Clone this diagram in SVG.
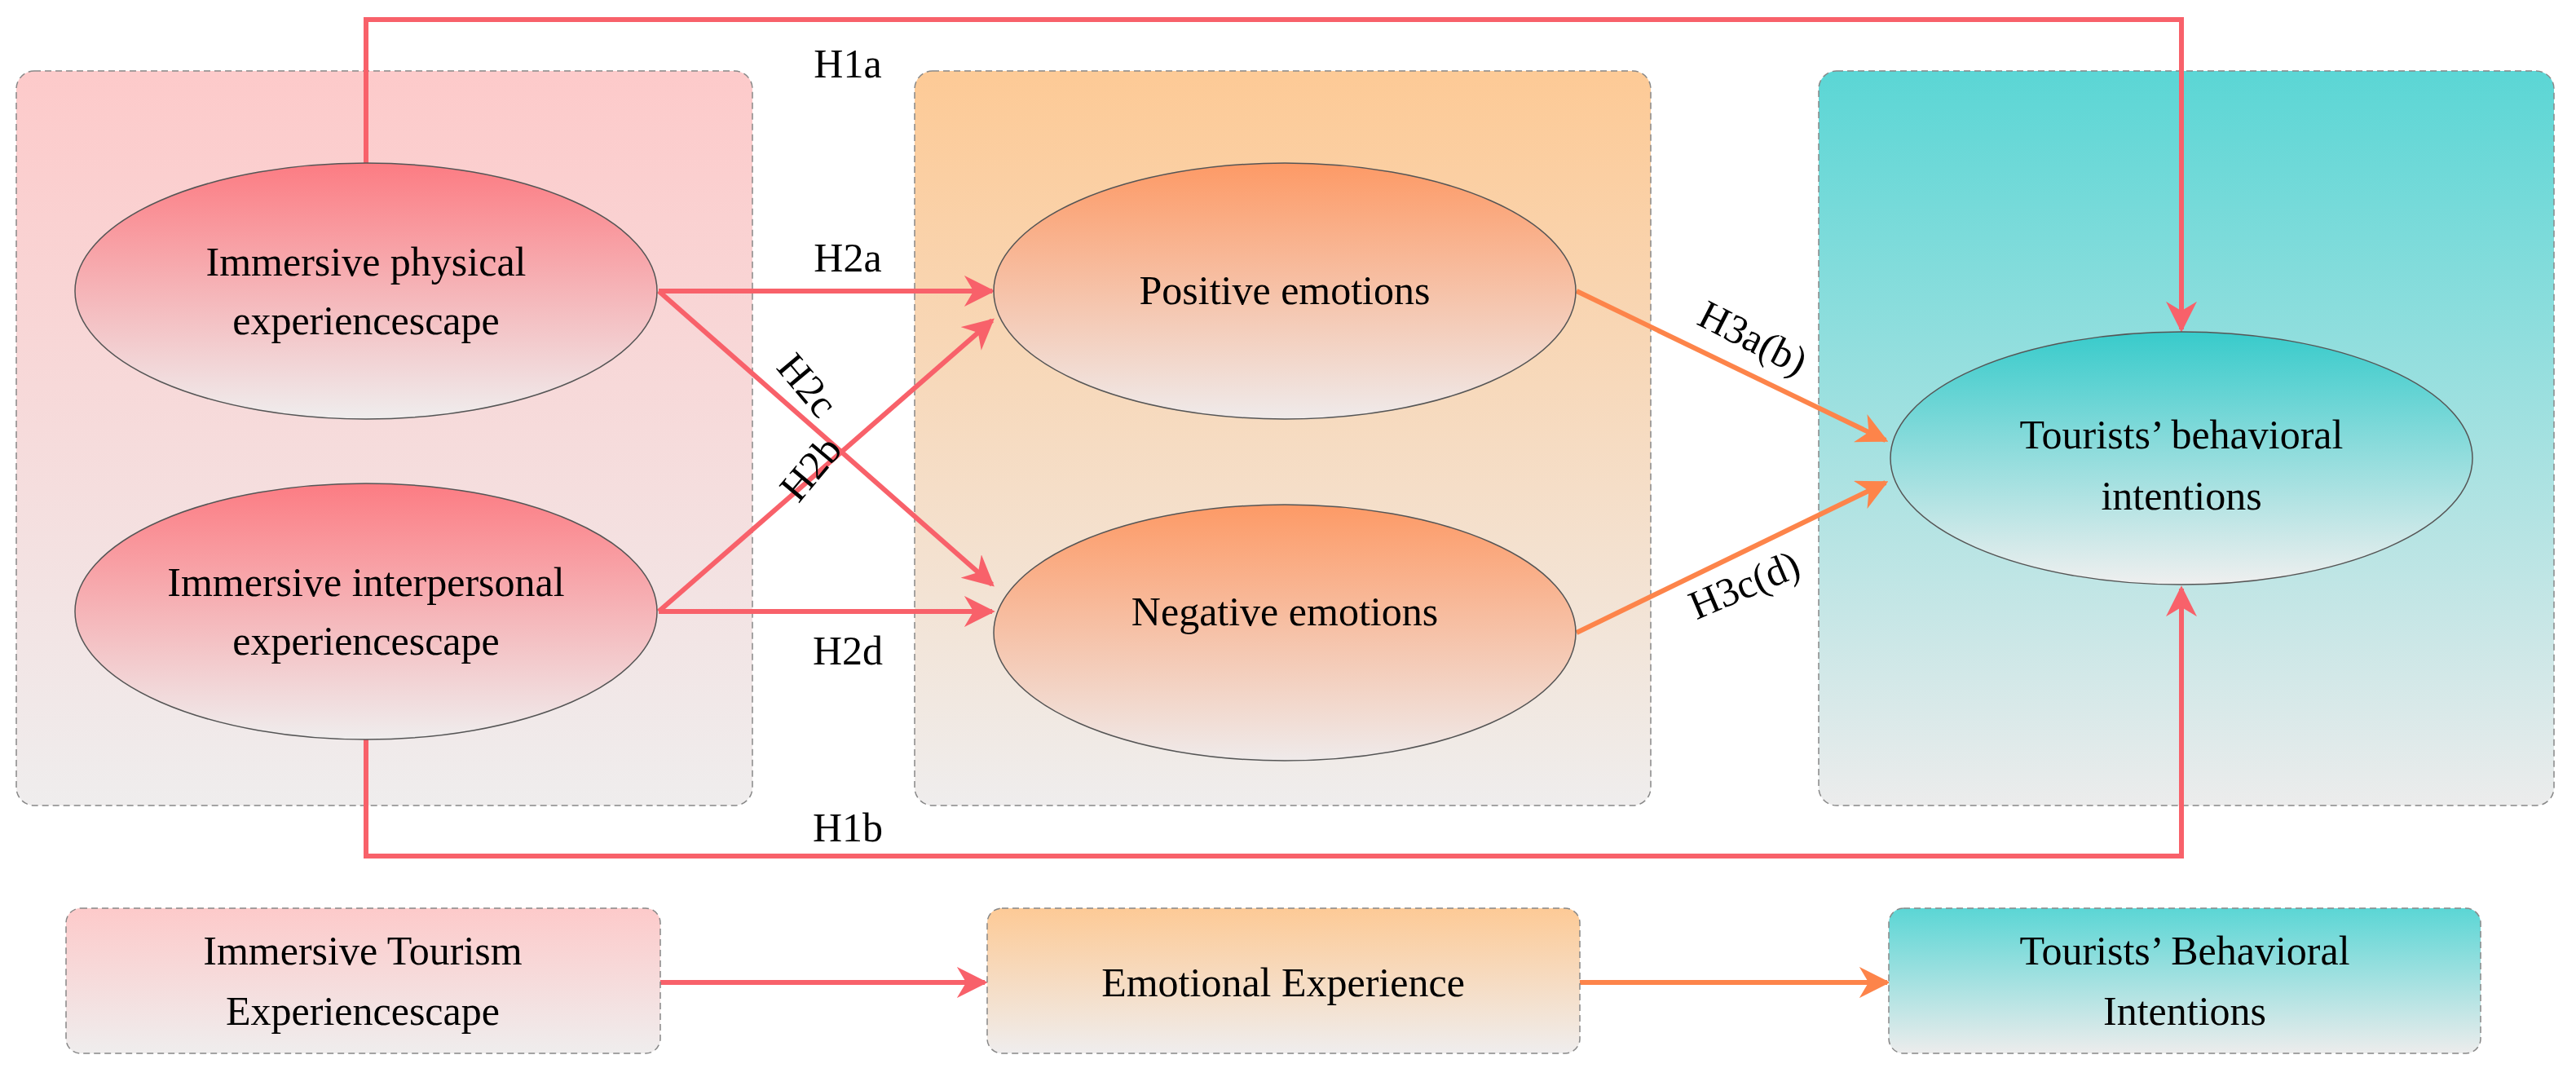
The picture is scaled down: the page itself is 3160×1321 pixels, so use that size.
<svg xmlns="http://www.w3.org/2000/svg" width="3160" height="1321" viewBox="0 0 3160 1321">
<defs>
<linearGradient id="gP" x1="0" y1="0" x2="0" y2="1"><stop offset="0" stop-color="#fdcaca"/><stop offset="1" stop-color="#efeded"/></linearGradient>
<linearGradient id="gO" x1="0" y1="0" x2="0" y2="1"><stop offset="0" stop-color="#fdca96"/><stop offset="1" stop-color="#efeded"/></linearGradient>
<linearGradient id="gT" x1="0" y1="0" x2="0" y2="1"><stop offset="0" stop-color="#5bd6d5"/><stop offset="1" stop-color="#ececec"/></linearGradient>
<linearGradient id="eP" x1="0" y1="0" x2="0" y2="1"><stop offset="0" stop-color="#fc7c83"/><stop offset="1" stop-color="#efeded"/></linearGradient>
<linearGradient id="eO" x1="0" y1="0" x2="0" y2="1"><stop offset="0" stop-color="#fd9a66"/><stop offset="1" stop-color="#efeaea"/></linearGradient>
<linearGradient id="eT" x1="0" y1="0" x2="0" y2="1"><stop offset="0" stop-color="#38cbcb"/><stop offset="1" stop-color="#efefef"/></linearGradient>
<marker id="mR" viewBox="0 0 10 10" refX="9" refY="5" markerWidth="7" markerHeight="7" markerUnits="userSpaceOnUse" orient="auto"><path d="M0,0 L10,5 L0,10 L3,5 Z" fill="#f8616a"/></marker>
<marker id="aR" viewBox="0 0 10 10" refX="9" refY="5" markerWidth="38" markerHeight="38" markerUnits="userSpaceOnUse" orient="auto"><path d="M0,0 L10,5 L0,10 L3,5 Z" fill="#f8616a"/></marker>
<marker id="aO" viewBox="0 0 10 10" refX="9" refY="5" markerWidth="38" markerHeight="38" markerUnits="userSpaceOnUse" orient="auto"><path d="M0,0 L10,5 L0,10 L3,5 Z" fill="#fd844a"/></marker>
</defs>
<style>
.panel{stroke:#888;stroke-width:1.5;stroke-dasharray:8 5}
.ell{stroke:#555;stroke-width:1.5}
text{font-family:"Liberation Serif","Times New Roman",serif;font-size:50px;fill:#000;text-anchor:middle}
.r{fill:none;stroke:#f8616a;stroke-width:6}
.o{fill:none;stroke:#fd844a;stroke-width:6}
</style>
<rect width="3160" height="1321" fill="#fff"/>
<g id="panel-left"><rect class="panel" x="20" y="87" width="903" height="901" rx="22" fill="url(#gP)"/></g>
<g id="panel-mid"><rect class="panel" x="1122" y="87" width="903" height="901" rx="22" fill="url(#gO)"/></g>
<g id="panel-right"><rect class="panel" x="2231" y="87" width="902" height="901" rx="22" fill="url(#gT)"/></g>
<g id="connectors">
<polyline class="r" points="449,200 449,24 2676,24 2676,404" marker-end="url(#aR)"/>
<polyline class="r" points="449,907 449,1050 2676,1050 2676,722" marker-end="url(#aR)"/>
<line class="r" x1="808" y1="357" x2="1217" y2="357" marker-end="url(#aR)"/>
<line class="r" x1="808" y1="357" x2="1217" y2="717" marker-end="url(#aR)"/>
<line class="r" x1="808" y1="750" x2="1217" y2="393" marker-end="url(#aR)"/>
<line class="r" x1="808" y1="750" x2="1217" y2="750" marker-end="url(#aR)"/>
<line class="o" x1="1934" y1="357" x2="2313" y2="540" marker-end="url(#aO)"/>
<line class="o" x1="1934" y1="776" x2="2313" y2="592" marker-end="url(#aO)"/>
<line class="r" x1="810" y1="1205" x2="1208" y2="1205" marker-end="url(#aR)"/>
<line class="o" x1="1938" y1="1205" x2="2315" y2="1205" marker-end="url(#aO)"/>
</g>
<g id="node-physical"><ellipse class="ell" cx="449" cy="357" rx="357" ry="157" fill="url(#eP)"/><text x="449" y="338">Immersive physical</text><text x="449" y="410">experiencescape</text></g>
<g id="node-interpersonal"><ellipse class="ell" cx="449" cy="750" rx="357" ry="157" fill="url(#eP)"/><text x="449" y="731">Immersive interpersonal</text><text x="449" y="803">experiencescape</text></g>
<g id="node-positive"><ellipse class="ell" cx="1576" cy="357" rx="357" ry="157" fill="url(#eO)"/><text x="1576" y="373">Positive emotions</text></g>
<g id="node-negative"><ellipse class="ell" cx="1576" cy="776" rx="357" ry="157" fill="url(#eO)"/><text x="1576" y="767">Negative emotions</text></g>
<g id="node-intentions"><ellipse class="ell" cx="2676" cy="562" rx="357" ry="155" fill="url(#eT)"/><text x="2676" y="550">Tourists’ behavioral</text><text x="2676" y="625">intentions</text></g>
<g id="labels">
<text x="1040" y="95">H1a</text>
<text x="1040" y="333">H2a</text>
<text transform="translate(990,473) rotate(50)" y="16">H2c</text>
<text transform="translate(995,575) rotate(-50)" y="16">H2b</text>
<text x="1040" y="815">H2d</text>
<text x="1040" y="1032">H1b</text>
<text transform="translate(2150,415) rotate(27)" y="16">H3a(b)</text>
<text transform="translate(2140,718) rotate(-23)" y="16">H3c(d)</text>
</g>
<g id="legend-1"><rect class="panel" x="81" y="1114" width="729" height="178" rx="18" fill="url(#gP)"/><text x="445" y="1183">Immersive Tourism</text><text x="445" y="1257">Experiencescape</text></g>
<g id="legend-2"><rect class="panel" x="1211" y="1114" width="727" height="178" rx="18" fill="url(#gO)"/><text x="1574" y="1222">Emotional Experience</text></g>
<g id="legend-3"><rect class="panel" x="2317" y="1114" width="726" height="178" rx="18" fill="url(#gT)"/><text x="2680" y="1183">Tourists’ Behavioral</text><text x="2680" y="1257">Intentions</text></g>
</svg>
